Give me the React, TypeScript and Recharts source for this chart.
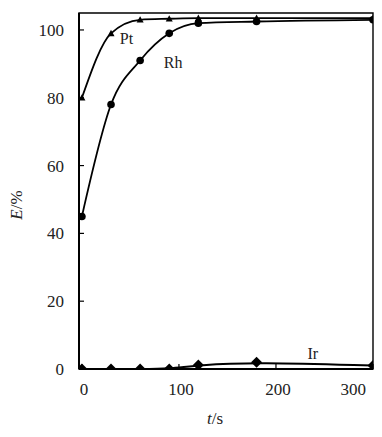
import React from 'react';
import { ComposedChart, Line, XAxis, YAxis, ReferenceArea, ReferenceDot } from 'recharts';

const times = [0, 30, 60, 90, 120, 180, 300];
const ptValues = [80, 99, 103, 103.3, 103.5, 103.5, 103.5];
const rhValues = [45, 78, 91, 99, 102, 102.5, 103];
const irValues = [0, 0, 0, 0, 1.2, 2, 1];
const xTicks = [0, 100, 200, 300];
const yTicks = [0, 20, 40, 60, 80, 100];
const seriesLabels = [
  { name: 'Pt', t: 46, e: 97.5 },
  { name: 'Rh', t: 94, e: 90.5 },
  { name: 'Ir', t: 238, e: 4.5 },
];

const data = times.map((t, i) => ({ t, pt: ptValues[i], rh: rhValues[i], ir: irValues[i] }));

const FONT = '"Liberation Serif", "Times New Roman", serif';

const Triangle = (props: any) => {
  const { cx, cy, index } = props;
  if (cx == null || cy == null) return null;
  const s = 3.5;
  return <path key={`tri-${index}`} d={`M${cx},${cy - s}L${cx + s},${cy + s * 0.8}L${cx - s},${cy + s * 0.8}Z`} fill="#000" />;
};
const Circle = (props: any) => {
  const { cx, cy, index } = props;
  if (cx == null || cy == null) return null;
  return <circle key={`c-${index}`} cx={cx} cy={cy} r={3.8} fill="#000" />;
};
const Diamond = (props: any) => {
  const { cx, cy, index } = props;
  if (cx == null || cy == null) return null;
  const s = 5.5;
  return <path key={`d-${index}`} d={`M${cx},${cy - s}L${cx + s},${cy}L${cx},${cy + s}L${cx - s},${cy}Z`} fill="#000" />;
};

const XTick = (props: any) => {
  const { x, y, payload } = props;
  const last = payload.value === xTicks[xTicks.length - 1];
  return (
    <text x={last ? x - 4 : x + 2} y={y} dy={15} textAnchor={last ? 'end' : 'middle'} fontFamily={FONT} fontSize={17} fill="#222">
      {payload.value}
    </text>
  );
};

const YTick = (props: any) => {
  const { x, y, payload } = props;
  return (
    <text x={x} y={y} dy={6} textAnchor="end" fontFamily={FONT} fontSize={17} fill="#222">
      {payload.value}
    </text>
  );
};

const YLabel = (props: any) => {
  const { viewBox } = props;
  const cx = 22;
  const cy = viewBox.y + viewBox.height / 2 + 14;
  return (
    <text x={cx} y={cy} transform={`rotate(-90, ${cx}, ${cy})`} textAnchor="middle" fontFamily={FONT} fontSize={17} fill="#222">
      <tspan fontStyle="italic">E</tspan>/%
    </text>
  );
};

const XLabel = (props: any) => {
  const { viewBox } = props;
  const cx = viewBox.x + viewBox.width / 2 - 11;
  return (
    <text x={cx} y={424} textAnchor="middle" fontFamily={FONT} fontSize={17} fill="#222">
      <tspan fontStyle="italic">t</tspan>/s
    </text>
  );
};

export default function App() {
  return (
    <div style={{ position: 'absolute', left: 0, top: 0, background: '#fff' }}>
      <ComposedChart width={382} height={437} data={data} margin={{ top: 13, right: 9, bottom: 0, left: 0 }}>
        <XAxis
          type="number"
          dataKey="t"
          domain={[-3, 300]}
          ticks={xTicks}
          allowDataOverflow
          height={68}
          tickSize={-5}
          tickMargin={16}
          tick={<XTick />}
          axisLine={{ stroke: '#000', strokeWidth: 2 }}
          tickLine={{ stroke: '#000', strokeWidth: 1.2 }}
          label={<XLabel />}
        />
        <YAxis
          type="number"
          domain={[0, 105]}
          ticks={yTicks}
          allowDataOverflow
          width={79}
          tickSize={-5}
          tickMargin={20}
          tick={<YTick />}
          axisLine={{ stroke: '#000', strokeWidth: 2 }}
          tickLine={{ stroke: '#000', strokeWidth: 1.2 }}
          label={<YLabel />}
        />
        <ReferenceArea x1={-3} x2={300} y1={0} y2={105} stroke="#000" strokeWidth={1.4} fill="none" fillOpacity={0} ifOverflow="visible" />
        <Line type="basis" dataKey="ir" stroke="#000" strokeWidth={2} dot={<Diamond />} isAnimationActive={false} />
        <Line type="monotone" dataKey="rh" stroke="#000" strokeWidth={1.8} dot={<Circle />} isAnimationActive={false} />
        <Line type="monotone" dataKey="pt" stroke="#000" strokeWidth={1.8} dot={<Triangle />} isAnimationActive={false} />
        {seriesLabels.map((l) => (
          <ReferenceDot
            key={l.name}
            x={l.t}
            y={l.e}
            r={0}
            fill="none"
            stroke="none"
            ifOverflow="visible"
            label={{ value: l.name, position: 'center', fontFamily: FONT, fontSize: 16, fill: '#222' }}
          />
        ))}
      </ComposedChart>
    </div>
  );
}
